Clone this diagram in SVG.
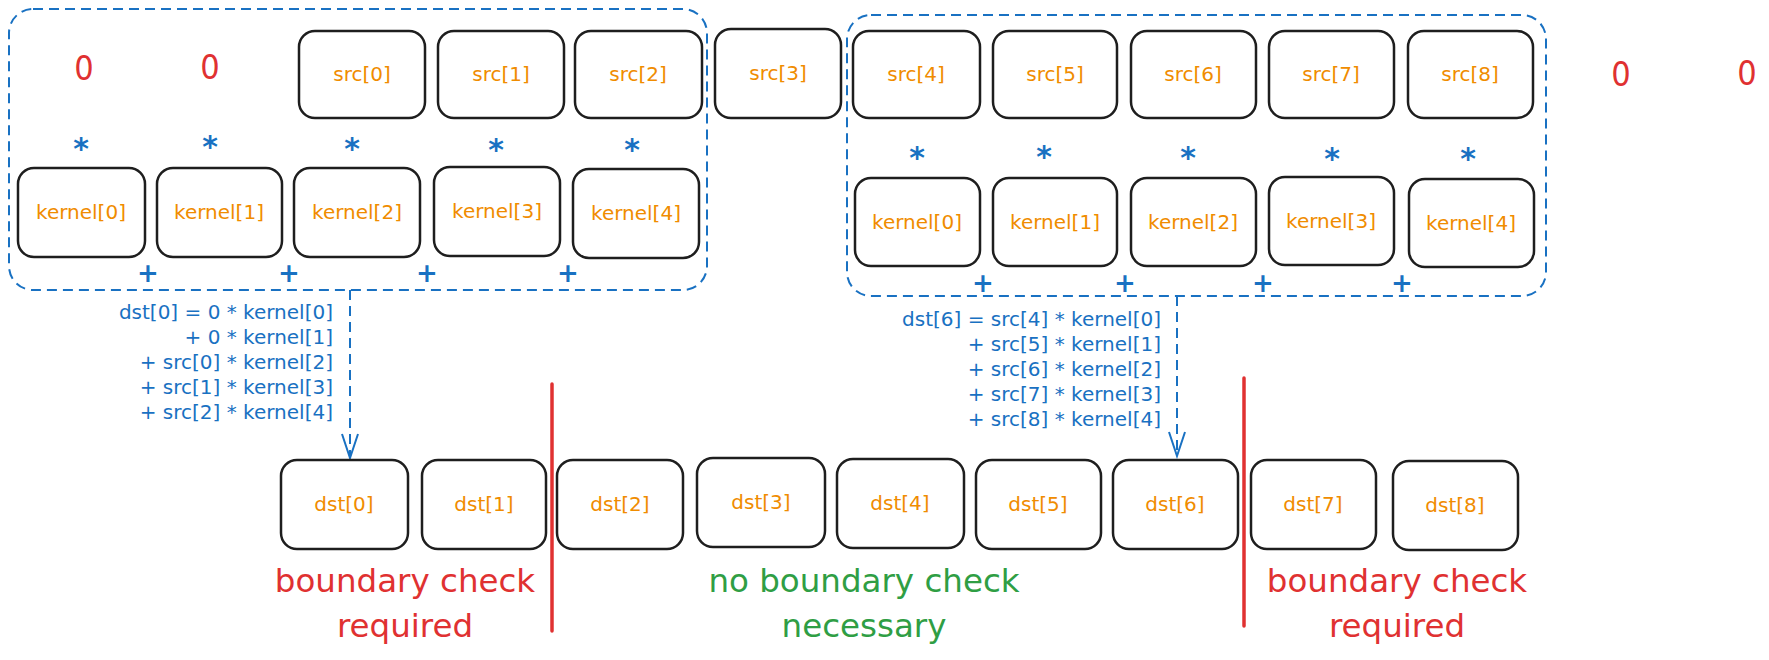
<svg xmlns="http://www.w3.org/2000/svg" width="1769" height="660" viewBox="0 0 1769 660">
<defs>
<style>
.box{fill:none;stroke:#1e1e1e;stroke-width:2.5}
.lbl{font-family:"DejaVu Sans",sans-serif;font-size:20px;fill:#f08c00;text-anchor:middle}
.grp{fill:none;stroke:#1971c2;stroke-width:2;stroke-dasharray:10 6}
.op{font-family:"DejaVu Sans",sans-serif;font-weight:bold;fill:#1971c2;text-anchor:middle}
.zero{font-family:"DejaVu Sans Condensed","DejaVu Sans",sans-serif;font-size:34px;fill:#e03131;text-anchor:middle}
.fml{font-family:"DejaVu Sans",sans-serif;font-size:20px;fill:#1971c2;text-anchor:end}
.big{font-family:"DejaVu Sans",sans-serif;font-size:32.5px;text-anchor:middle}
.conn{fill:none;stroke:#1971c2;stroke-width:2;stroke-dasharray:10 6}
.sep{stroke:#e03131;stroke-width:3.5;stroke-linecap:round}
</style>
<marker id="arr" markerUnits="userSpaceOnUse" markerWidth="28" markerHeight="20" refX="25" refY="9" orient="auto">
<path d="M1,1 L25,9 L1,17" fill="none" stroke="#1971c2" stroke-width="2"/>
</marker>
</defs>
<rect width="1769" height="660" fill="#ffffff"/>

<g id="group-left"><rect class="grp" x="9" y="9" width="698" height="281" rx="24"/></g>
<g id="group-right"><rect class="grp" x="847" y="15" width="699" height="281" rx="24"/></g>

<g id="zeros">
<text class="zero" x="84" y="80">0</text>
<text class="zero" x="210" y="79">0</text>
<text class="zero" x="1621" y="86">0</text>
<text class="zero" x="1747" y="85">0</text>
</g>

<g id="src0"><rect class="box" x="299" y="31" width="126" height="87" rx="16"/><text class="lbl" x="362" y="81">src[0]</text></g>
<g id="src1"><rect class="box" x="438" y="31" width="126" height="87" rx="16"/><text class="lbl" x="501" y="81">src[1]</text></g>
<g id="src2"><rect class="box" x="575" y="31" width="127" height="87" rx="16"/><text class="lbl" x="638" y="81">src[2]</text></g>
<g id="src3"><rect class="box" x="715" y="29" width="126" height="89" rx="16"/><text class="lbl" x="778" y="80">src[3]</text></g>
<g id="src4"><rect class="box" x="853" y="31" width="127" height="87" rx="16"/><text class="lbl" x="916" y="81">src[4]</text></g>
<g id="src5"><rect class="box" x="993" y="31" width="124" height="87" rx="16"/><text class="lbl" x="1055" y="81">src[5]</text></g>
<g id="src6"><rect class="box" x="1131" y="31" width="125" height="87" rx="16"/><text class="lbl" x="1193" y="81">src[6]</text></g>
<g id="src7"><rect class="box" x="1269" y="31" width="125" height="87" rx="16"/><text class="lbl" x="1331" y="81">src[7]</text></g>
<g id="src8"><rect class="box" x="1408" y="31" width="125" height="87" rx="16"/><text class="lbl" x="1470" y="81">src[8]</text></g>

<g id="ops-left">
<text class="op" font-size="30" x="81" y="159">*</text>
<text class="op" font-size="30" x="210" y="157">*</text>
<text class="op" font-size="30" x="352" y="159">*</text>
<text class="op" font-size="30" x="496" y="160">*</text>
<text class="op" font-size="30" x="632" y="160">*</text>
<text class="op" font-size="26" x="148" y="282">+</text>
<text class="op" font-size="26" x="289" y="282">+</text>
<text class="op" font-size="26" x="427" y="282">+</text>
<text class="op" font-size="26" x="568" y="282">+</text>
</g>
<g id="ops-right">
<text class="op" font-size="30" x="917" y="168">*</text>
<text class="op" font-size="30" x="1044" y="167">*</text>
<text class="op" font-size="30" x="1188" y="168">*</text>
<text class="op" font-size="30" x="1332" y="169">*</text>
<text class="op" font-size="30" x="1468" y="169">*</text>
<text class="op" font-size="26" x="983" y="292">+</text>
<text class="op" font-size="26" x="1125" y="292">+</text>
<text class="op" font-size="26" x="1263" y="292">+</text>
<text class="op" font-size="26" x="1402" y="292">+</text>
</g>

<g id="kL0"><rect class="box" x="18" y="168" width="127" height="89" rx="16"/><text class="lbl" x="81" y="219">kernel[0]</text></g>
<g id="kL1"><rect class="box" x="157" y="168" width="125" height="89" rx="16"/><text class="lbl" x="219" y="219">kernel[1]</text></g>
<g id="kL2"><rect class="box" x="294" y="168" width="126" height="89" rx="16"/><text class="lbl" x="357" y="219">kernel[2]</text></g>
<g id="kL3"><rect class="box" x="434" y="167" width="126" height="89" rx="16"/><text class="lbl" x="497" y="218">kernel[3]</text></g>
<g id="kL4"><rect class="box" x="573" y="169" width="126" height="89" rx="16"/><text class="lbl" x="636" y="220">kernel[4]</text></g>

<g id="kR0"><rect class="box" x="855" y="178" width="125" height="88" rx="16"/><text class="lbl" x="917" y="229">kernel[0]</text></g>
<g id="kR1"><rect class="box" x="993" y="178" width="124" height="88" rx="16"/><text class="lbl" x="1055" y="229">kernel[1]</text></g>
<g id="kR2"><rect class="box" x="1131" y="178" width="125" height="88" rx="16"/><text class="lbl" x="1193" y="229">kernel[2]</text></g>
<g id="kR3"><rect class="box" x="1269" y="177" width="125" height="88" rx="16"/><text class="lbl" x="1331" y="228">kernel[3]</text></g>
<g id="kR4"><rect class="box" x="1409" y="179" width="125" height="88" rx="16"/><text class="lbl" x="1471" y="230">kernel[4]</text></g>

<g id="connectors">
<line class="conn" x1="350" y1="290" x2="350" y2="458" marker-end="url(#arr)"/>
<line class="conn" x1="1177" y1="296" x2="1177" y2="456" marker-end="url(#arr)"/>
</g>

<g id="formula-left">
<text class="fml" x="333" y="319">dst[0] = 0 * kernel[0]</text>
<text class="fml" x="333" y="344">+ 0 * kernel[1]</text>
<text class="fml" x="333" y="369">+ src[0] * kernel[2]</text>
<text class="fml" x="333" y="394">+ src[1] * kernel[3]</text>
<text class="fml" x="333" y="419">+ src[2] * kernel[4]</text>
</g>
<g id="formula-right">
<text class="fml" x="1161" y="326">dst[6] = src[4] * kernel[0]</text>
<text class="fml" x="1161" y="351">+ src[5] * kernel[1]</text>
<text class="fml" x="1161" y="376">+ src[6] * kernel[2]</text>
<text class="fml" x="1161" y="401">+ src[7] * kernel[3]</text>
<text class="fml" x="1161" y="426">+ src[8] * kernel[4]</text>
</g>

<g id="dst0"><rect class="box" x="281" y="460" width="127" height="89" rx="16"/><text class="lbl" x="344" y="511">dst[0]</text></g>
<g id="dst1"><rect class="box" x="422" y="460" width="124" height="89" rx="16"/><text class="lbl" x="484" y="511">dst[1]</text></g>
<g id="dst2"><rect class="box" x="557" y="460" width="126" height="89" rx="16"/><text class="lbl" x="620" y="511">dst[2]</text></g>
<g id="dst3"><rect class="box" x="697" y="458" width="128" height="89" rx="16"/><text class="lbl" x="761" y="509">dst[3]</text></g>
<g id="dst4"><rect class="box" x="837" y="459" width="127" height="89" rx="16"/><text class="lbl" x="900" y="510">dst[4]</text></g>
<g id="dst5"><rect class="box" x="976" y="460" width="125" height="89" rx="16"/><text class="lbl" x="1038" y="511">dst[5]</text></g>
<g id="dst6"><rect class="box" x="1113" y="460" width="125" height="89" rx="16"/><text class="lbl" x="1175" y="511">dst[6]</text></g>
<g id="dst7"><rect class="box" x="1251" y="460" width="125" height="89" rx="16"/><text class="lbl" x="1313" y="511">dst[7]</text></g>
<g id="dst8"><rect class="box" x="1393" y="461" width="125" height="89" rx="16"/><text class="lbl" x="1455" y="512">dst[8]</text></g>

<g id="separators">
<line class="sep" x1="552" y1="384" x2="552" y2="631"/>
<line class="sep" x1="1244" y1="378" x2="1244" y2="626"/>
</g>

<g id="label-left">
<text class="big" fill="#e03131" x="405" y="592">boundary check</text>
<text class="big" fill="#e03131" x="405" y="637">required</text>
</g>
<g id="label-middle">
<text class="big" fill="#2f9e44" x="864" y="592">no boundary check</text>
<text class="big" fill="#2f9e44" x="864" y="637">necessary</text>
</g>
<g id="label-right">
<text class="big" fill="#e03131" x="1397" y="592">boundary check</text>
<text class="big" fill="#e03131" x="1397" y="637">required</text>
</g>
</svg>
